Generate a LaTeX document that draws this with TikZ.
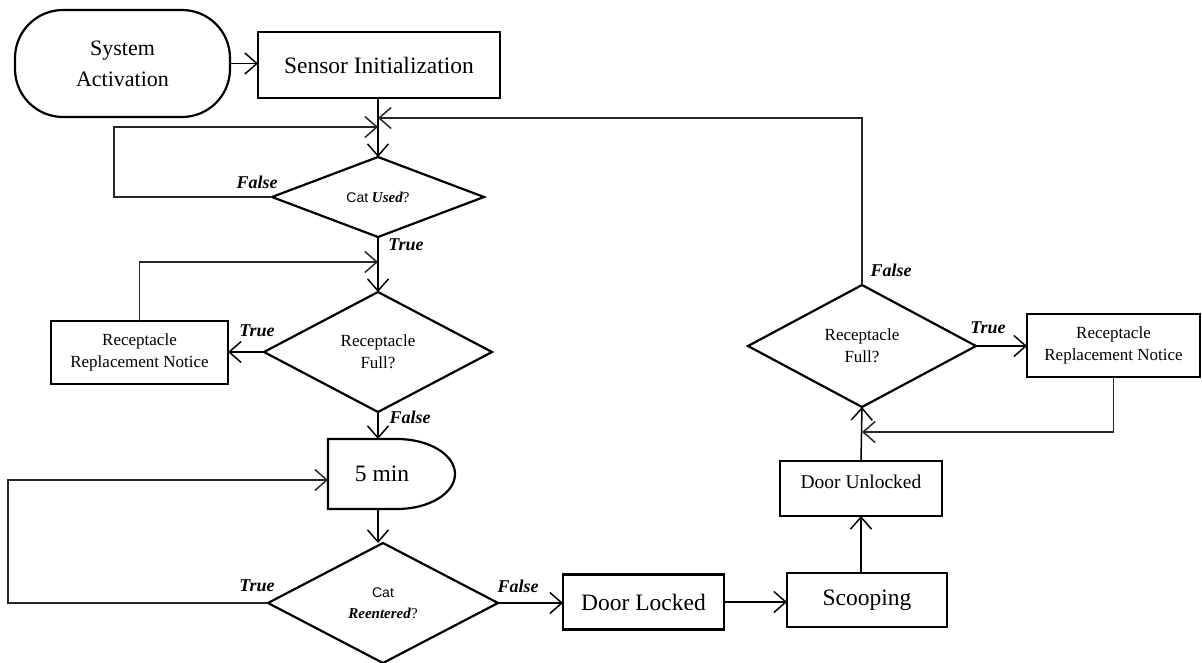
\documentclass[tikz,border=0pt]{standalone}
\usepackage{fontspec}
\setmainfont{Liberation Serif}
\newfontfamily\sansf{Liberation Sans}
\usetikzlibrary{shapes.geometric,arrows.meta,calc}
\begin{document}
\begin{tikzpicture}[x=1pt,y=-1pt,
  box/.style={draw, line width=2.2pt, rectangle, inner sep=0pt, outer sep=0pt, align=center},
  dec/.style={draw, line width=2.2pt, diamond, inner sep=0pt, outer sep=0pt, align=center},
  arr/.style={line width=1.5pt, -{Straight Barb[length=12pt,width=21pt,line width=1.5pt]}},
  fb/.style={line width=1.1pt, draw=black!85},
  lab/.style={font=\fontsize{18}{20}\selectfont\bfseries\itshape, inner sep=0pt},
  big/.style={font=\fontsize{23.5}{28}\selectfont},
  mid/.style={font=\fontsize{17}{22}\selectfont},
]
\useasboundingbox (0,0) rectangle (1202,663);

% nodes
\node[box, rounded corners=48pt, minimum width=215pt, minimum height=107pt,
      font=\fontsize{22}{31}\selectfont] (sa) at (122.5,63.5) {System\\Activation};
\node[box, big, minimum width=242pt, minimum height=66pt] (si) at (379,65) {Sensor Initialization};
\node[dec, minimum width=212pt, minimum height=80pt, font=\fontsize{15}{17}\selectfont] (d1) at (378,197)
  {{\sansf\fontsize{14}{16}\selectfont Cat} \textbf{\textit{Used}}?};
\node[dec, mid, minimum width=228pt, minimum height=120pt] (d2) at (378,352) {Receptacle\\Full?};
\node[box, mid, minimum width=177pt, minimum height=63pt] (rrn1) at (139.5,352.5) {Receptacle\\Replacement Notice};
\node[big, inner sep=0pt, outer sep=0pt, minimum width=108pt, minimum height=70pt] (delay) at (382,474) {5 min};
\node[dec, minimum width=230pt, minimum height=120pt, font=\fontsize{15}{21}\selectfont] (d3) at (383,603)
  {{\sansf\fontsize{14}{21}\selectfont Cat}\\\textbf{\textit{Reentered}}?};
\node[box, big, minimum width=161pt, minimum height=55pt] (dl) at (643.5,602) {Door Locked};
\node[box, big, minimum width=160pt, minimum height=54pt] (scoop) at (867,600) {Scooping};
\node[box, font=\fontsize{19.5}{22}\selectfont, text height=13pt, text depth=13pt,
      minimum width=162pt, minimum height=55pt] (du) at (861,488.5) {Door Unlocked};
\node[dec, mid, minimum width=228pt, minimum height=122pt] (d4) at (862,346) {Receptacle\\Full?};
\node[box, mid, minimum width=173pt, minimum height=63pt] (rrn2) at (1113.5,345.5) {Receptacle\\Replacement Notice};

% delay shape outline
\draw[line width=2.2pt] (delay.north west) -- (397,439)
  arc[start angle=90,end angle=-90,x radius=58pt,y radius=35pt] -- (delay.south west) -- cycle;

% junction points
\coordinate (j0) at (378,118);
\coordinate (j1) at (378,127);
\coordinate (j2) at (378,262);
\coordinate (j3) at (862,432);

% main connectors
\draw[arr] (sa.east) -- (sa.east -| si.west);
\draw[arr] (si.south -| d1.north) -- (d1.north);
\draw[arr] (d1.south) -- (d2.north);
\draw[arr] (d2.west) -- (d2.west -| rrn1.east);
\draw[arr] (d2.south) -- (d2.south |- delay.north);
\draw[arr] (delay.south -| d2.south) -- (d2.south |- d3.north);
\draw[arr] (d3.east) -- (d3.east -| dl.west);
\draw[arr] (dl.east) -- (dl.east -| scoop.west);
\draw[arr] (scoop.north -| du.south) -- (du.south);
\draw[arr] (du.north) -- (d4.south);
\draw[arr] (d4.east) -- (d4.east -| rrn2.west);

% feedback connectors
\draw[arr, fb] (d1.west) -- ++(-158,0) |- (j1);
\draw[arr, fb] (d4.north) |- (j0);
\draw[arr, fb] (rrn1.north) |- (j2);
\draw[arr, fb] (d3.west) -- ++(-260,0) |- ($(delay.west)+(0,6)$);
\draw[arr, fb] (rrn2.south) |- (j3);

% labels
\node[lab] (lf1) at (257,182) {False};
\node[lab] (lt1) at (406,245) {True};
\node[lab] (lt2) at (257,331) {True};
\node[lab] (lf2) at (410,417) {False};
\node[lab] (lt3) at (257,586) {True};
\node[lab] (lf3) at (518,586) {False};
\node[lab] (lt4) at (988,328) {True};
\node[lab] (lf4) at (891,270) {False};
\end{tikzpicture}
\end{document}
